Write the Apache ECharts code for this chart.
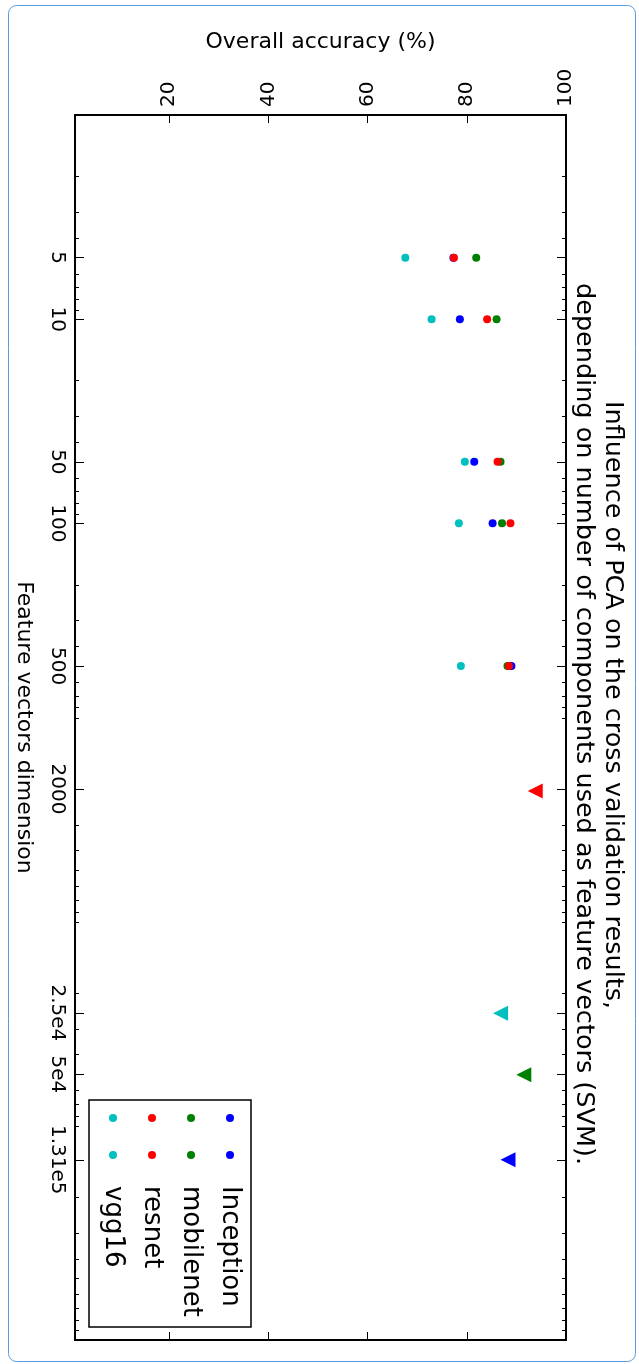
<!DOCTYPE html>
<html>
<head>
<meta charset="utf-8">
<script src="https://cdn.jsdelivr.net/npm/echarts@6/dist/echarts.min.js"></script>
<style>
  html, body { margin: 0; padding: 0; background: #fff; }
  #main { width: 639px; height: 1364px; }
</style>
</head>
<body>
<div id="main"></div>
<script>
// PCA dimensions tested, and accuracies per network
var dims = [5, 10, 50, 100, 500];
var inception = [77.3, 78.6, 81.5, 85.2, 89.0];
var mobilenet = [81.9, 86.0, 86.8, 87.1, 88.2];
var resnet = [77.4, 84.1, 86.2, 88.8, 88.5];
var vgg16 = [67.6, 72.9, 79.6, 78.4, 78.8];

// without PCA: full feature vector size per network
var fullDims = [131072, 50176, 2048, 25088];
var fullAcc = [88.3, 91.5, 93.8, 86.8];

var names = ['Inception', 'mobilenet', 'resnet', 'vgg16'];
var colors = ['#0000ff', '#008000', '#ff0000', '#00bfbf'];

// tick labels
var dimTicks = [5, 10, 50, 100, 500, 2000, 25000, 50000, 131000];
var dimTickLabels = ['5', '10', '50', '100', '500', '2000', '2.5e4', '5e4', '1.31e5'];
var accTicks = [20, 40, 60, 80, 100];

var minorTicks = [];
for (var n = 0; n < 6; n++) {
    for (var k = 2; k < 10; k++) minorTicks.push(k * Math.pow(10, n));
}

var font = 'DejaVu Sans';
var myChart = echarts.init(document.getElementById('main'), null, {renderer: 'canvas'});

function dimLabel(v) {
    var best = 0;
    for (var i = 1; i < dimTicks.length; i++) {
        if (Math.abs(Math.log(dimTicks[i] / v)) < Math.abs(Math.log(dimTicks[best] / v))) best = i;
    }
    return dimTickLabels[best];
}

var accSeries = [inception, mobilenet, resnet, vgg16];
var series = [];
accSeries.forEach(function (acc, i) {
    series.push({
        type: 'scatter',
        name: names[i],
        symbol: 'circle',
        symbolSize: 8,
        itemStyle: {color: colors[i], opacity: 1},
        data: dims.map(function (d, j) { return [acc[j], d]; })
    });
});
series.push({
    type: 'scatter',
    symbol: 'triangle',
    symbolSize: 15,
    symbolRotate: 90,
    itemStyle: {opacity: 1},
    data: fullDims.map(function (d, i) {
        return {value: [fullAcc[i], d], itemStyle: {color: colors[i], opacity: 1}};
    })
});

var axisBase = {
    splitLine: {show: false},
    minorTick: {show: false}
};

function dimAxis(pos, ticks, len, line, labels) {
    return Object.assign({}, axisBase, {
        type: 'log',
        logBase: 10,
        min: 1,
        max: 1000000,
        inverse: true,
        position: pos,
        name: labels ? 'Feature vectors dimension' : '',
        nameLocation: 'middle',
        nameRotate: -90,
        nameGap: 40,
        nameTextStyle: {fontFamily: font, fontSize: 22, color: '#000'},
        axisLine: {show: line, lineStyle: {color: '#000', width: 2}},
        axisTick: {show: true, inside: true, length: len, customValues: ticks,
            lineStyle: {color: '#000', width: 1}},
        axisLabel: {show: !!labels, customValues: dimTicks, rotate: -90, margin: 8,
            fontFamily: font, fontSize: 20, color: '#000', formatter: dimLabel}
    });
}

function accAxis(pos, labels) {
    return Object.assign({}, axisBase, {
        type: 'value',
        min: 1,
        max: 100,
        position: pos,
        name: labels ? 'Overall accuracy (%)' : '',
        nameLocation: 'middle',
        nameGap: 62,
        nameTextStyle: {fontFamily: font, fontSize: 22, color: '#000'},
        axisLine: {show: true, lineStyle: {color: '#000', width: 2}},
        axisTick: {show: true, inside: true, length: 8, customValues: accTicks,
            lineStyle: {color: '#000', width: 1}},
        axisLabel: {show: labels, customValues: accTicks, rotate: -90, margin: 8,
            showMaxLabel: true, fontFamily: font, fontSize: 20, color: '#000'}
    });
}

var graphic = [
    {type: 'rect', shape: {x: 8.5, y: 5.5, width: 627, height: 1356, r: 8},
        style: {fill: null, stroke: '#5a9be0', lineWidth: 1}, silent: true},
    {type: 'text', x: 613, y: 705, rotation: -Math.PI / 2,
        style: {text: 'Influence of PCA on the cross validation results,', fontFamily: font,
            fontSize: 25.5, fill: '#000', align: 'center', verticalAlign: 'middle'}},
    {type: 'text', x: 584, y: 724, rotation: -Math.PI / 2,
        style: {text: 'depending on number of components used as feature vectors (SVM).', fontFamily: font,
            fontSize: 25.5, fill: '#000', align: 'center', verticalAlign: 'middle'}},
    {type: 'rect', shape: {x: 89, y: 1100, width: 162, height: 227},
        style: {fill: '#fff', stroke: '#000', lineWidth: 1.5}, z: 10}
];
var legendX = [230, 191, 152, 113];
names.forEach(function (nm, i) {
    [1118, 1155].forEach(function (yy) {
        graphic.push({type: 'circle', shape: {cx: legendX[i], cy: yy, r: 4},
            style: {fill: colors[i]}, z: 11});
    });
    graphic.push({type: 'text', x: legendX[i], y: 1186, rotation: -Math.PI / 2, z: 11,
        style: {text: nm, fontFamily: font, fontSize: 26, fill: '#000',
            align: 'left', verticalAlign: 'middle'}});
});

option = {
    animation: false,
    backgroundColor: '#fff',
    grid: {left: 75, right: 73, top: 115, bottom: 24},
    xAxis: [accAxis('top', true), accAxis('bottom', false)],
    yAxis: [
        dimAxis('left', dimTicks, 9, true, true),
        dimAxis('left', minorTicks, 4, false, false),
        dimAxis('right', dimTicks, 9, true, false),
        dimAxis('right', minorTicks, 4, false, false)
    ],
    series: series,
    graphic: graphic
};
myChart.setOption(option);
</script>
</body>
</html>
